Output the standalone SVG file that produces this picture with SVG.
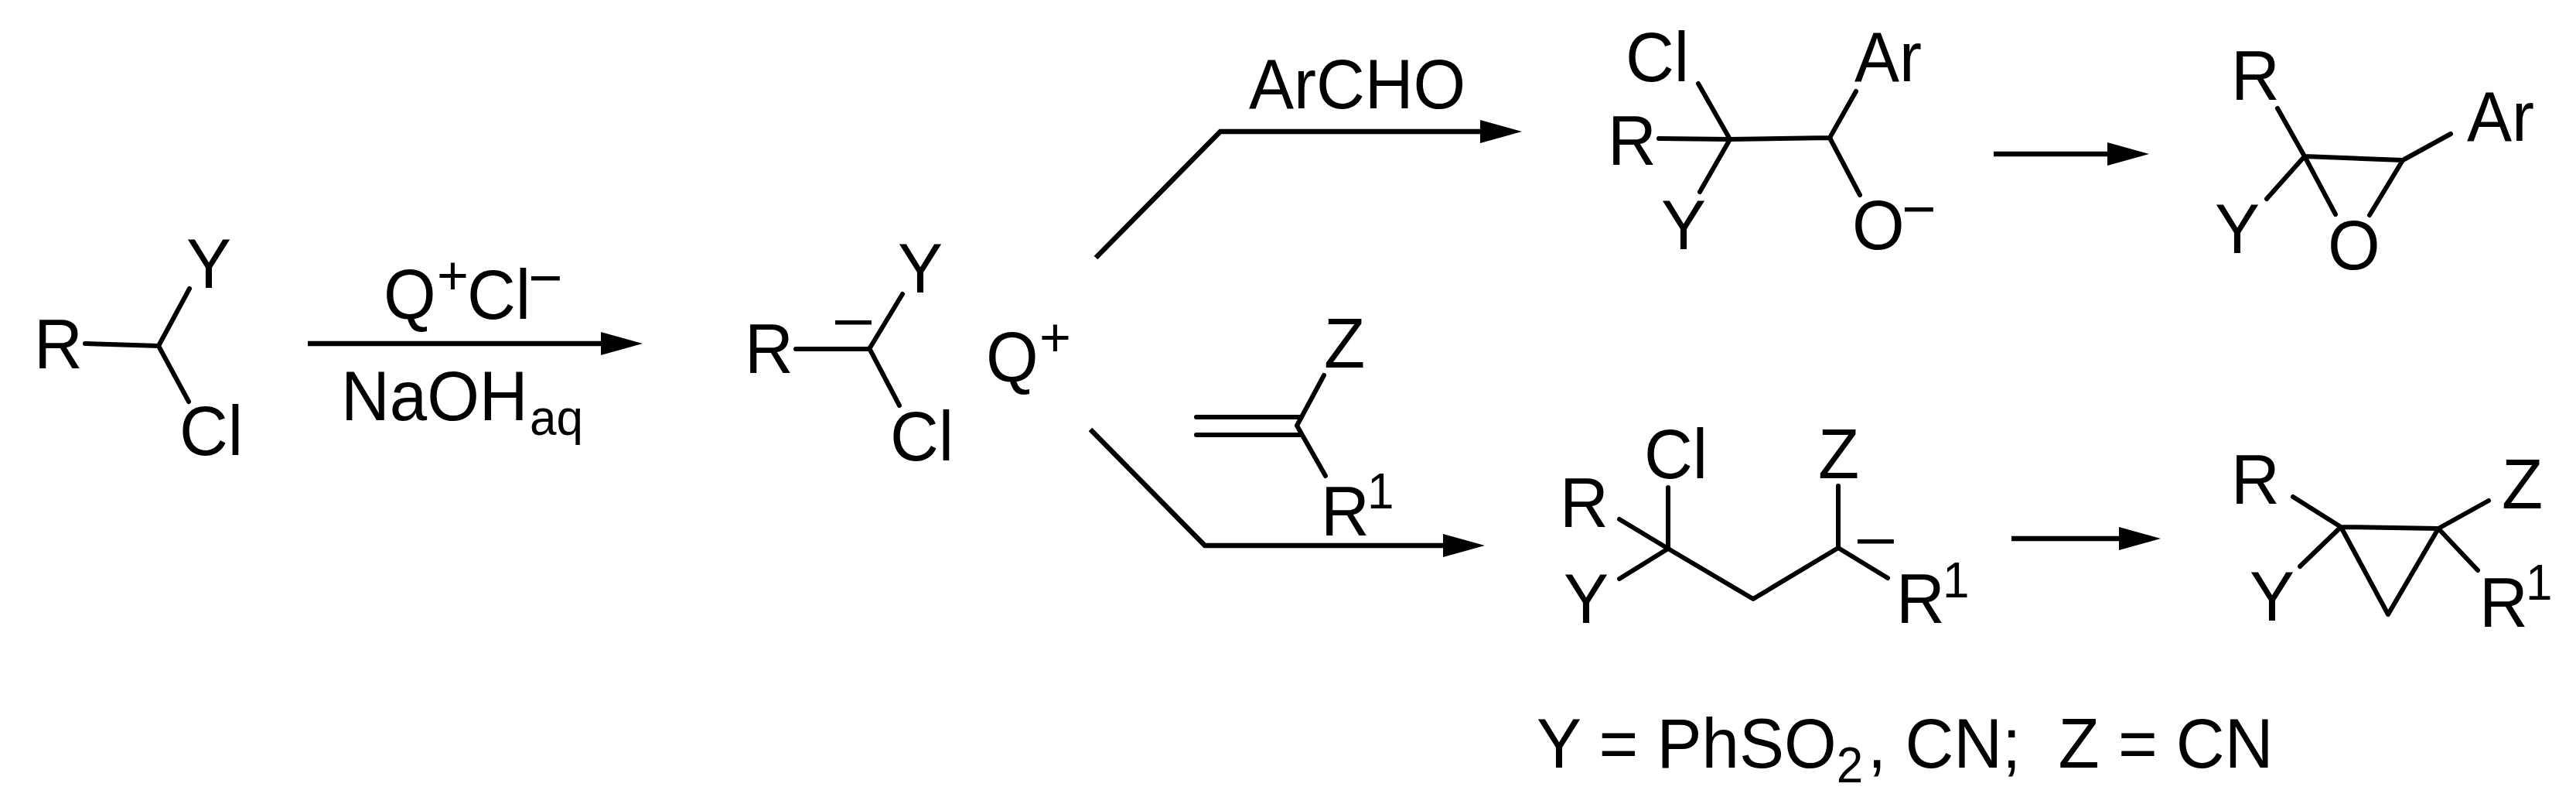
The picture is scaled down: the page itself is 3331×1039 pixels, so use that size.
<svg xmlns="http://www.w3.org/2000/svg" width="3331" height="1039" viewBox="0 0 3331 1039">
<style>
text{font-family:"Liberation Sans",Arial,sans-serif;fill:#000}
.a{font-size:87px}
.s{font-size:62px}
.p{font-size:70px}
.m{font-size:76px}
.bond{fill:none;stroke:#000;stroke-width:6;stroke-linecap:round;stroke-linejoin:round}
.arr{fill:none;stroke:#000;stroke-width:6.5;stroke-linejoin:miter}
</style>
<defs>
<marker id="head" markerUnits="userSpaceOnUse" markerWidth="56" markerHeight="32" refX="26" refY="15" orient="auto" overflow="visible">
<path d="M0 0L54 15L0 30z" fill="#000"/>
</marker>
</defs>
<rect width="3331" height="1039" fill="#fff"/>
<g id="connectors">
<path class="arr" d="M398 444H803" marker-end="url(#head)"/>
<path class="arr" d="M1417 333L1578 170H1940" marker-end="url(#head)"/>
<path class="arr" d="M2578 199H2751" marker-end="url(#head)"/>
<path class="arr" d="M1410 555L1558 705H1892" marker-end="url(#head)"/>
<path class="arr" d="M2601 696H2766" marker-end="url(#head)"/>
</g>
<g id="node-chloride">
<path class="bond" d="M110 444L205 447M205 447L245 373M205 447L244 519"/>
<text class="a" transform="translate(44 476) scale(1 1.05)">R</text>
<text class="a" transform="translate(241 372) scale(1 1.05)">Y</text>
<text class="a" transform="translate(232 588) scale(1 1.05)">Cl</text>
</g>
<g id="node-reagent-top">
<text class="a" transform="translate(496 412) scale(1 1.05)">Q</text>
<text class="p" x="565" y="380">+</text>
<text class="a" transform="translate(604 412) scale(1 1.05)">Cl</text>
<text class="m" x="683" y="385">−</text>
</g>
<g id="node-reagent-bottom">
<text class="a" transform="translate(441 543) scale(1 1.05)">NaOH</text>
<text class="s" transform="translate(685 562) scale(1 1.05)">aq</text>
</g>
<g id="node-carbanion">
<path class="bond" d="M1029 451H1124L1167 380M1124 450L1163 524"/>
<text class="a" transform="translate(963 482) scale(1 1.05)">R</text>
<text class="a" transform="translate(1161 378) scale(1 1.05)">Y</text>
<text class="a" transform="translate(1151 595) scale(1 1.05)">Cl</text>
<text class="m" transform="translate(1075 442) scale(1.27 1)">−</text>
</g>
<g id="node-qplus">
<text class="a" transform="translate(1275 493) scale(1 1.05)">Q</text>
<text class="p" x="1344" y="460">+</text>
</g>
<g id="node-archo"><text class="a" transform="translate(1615 140) scale(1 1.05)">ArCHO</text></g>
<g id="node-alkene">
<path class="bond" d="M1547 539H1682M1547 562H1682M1677 550L1712 485M1677 550L1714 615"/>
<text class="a" transform="translate(1712 475) scale(1 1.05)">Z</text>
<text class="a" transform="translate(1708 692) scale(1 1.05)">R</text>
<text class="s" transform="translate(1768 657) scale(1 1.05)">1</text>
</g>
<g id="node-alkoxide">
<path class="bond" d="M2145 179L2237 180L2366 178M2237 180L2196 108M2237 180L2198 248M2366 178L2400 118M2366 178L2405 252"/>
<text class="a" transform="translate(2102 105) scale(1 1.05)">Cl</text>
<text class="a" transform="translate(2079 213) scale(1 1.05)">R</text>
<text class="a" transform="translate(2148 322) scale(1 1.05)">Y</text>
<text class="a" transform="translate(2398 105) scale(1 1.05)">Ar</text>
<text class="a" transform="translate(2395 322) scale(1 1.05)">O</text>
<text class="m" x="2459" y="296">−</text>
</g>
<g id="node-epoxide">
<path class="bond" d="M2945 140L2980 202L3107 207L3169 173M2980 202L2931 257M2980 202L3020 277M3107 207L3064 278"/>
<text class="a" transform="translate(2885 129) scale(1 1.05)">R</text>
<text class="a" transform="translate(2864 327) scale(1 1.05)">Y</text>
<text class="a" transform="translate(3010 348) scale(1 1.05)">O</text>
<text class="a" transform="translate(3190 182) scale(1 1.05)">Ar</text>
</g>
<g id="node-adduct">
<path class="bond" d="M2157 630V709M2094 671L2157 709L2094 748M2157 709L2267 774L2377 708V628M2377 708L2441 747"/>
<text class="a" transform="translate(2017 681) scale(1 1.05)">R</text>
<text class="a" transform="translate(2126 618) scale(1 1.05)">Cl</text>
<text class="a" transform="translate(2022 805) scale(1 1.05)">Y</text>
<text class="a" transform="translate(2351 618) scale(1 1.05)">Z</text>
<text class="m" transform="translate(2397 725) scale(1.27 1)">−</text>
<text class="a" transform="translate(2452 805) scale(1 1.05)">R</text>
<text class="s" transform="translate(2512 772) scale(1 1.05)">1</text>
</g>
<g id="node-cyclopropane">
<path class="bond" d="M3027 681L3153 683L3088 794ZM3027 681L2965 642M3027 681L2974 732M3153 683L3218 647M3153 683L3204 737"/>
<text class="a" transform="translate(2885 651) scale(1 1.05)">R</text>
<text class="a" transform="translate(2909 802) scale(1 1.05)">Y</text>
<text class="a" transform="translate(3235 657) scale(1 1.05)">Z</text>
<text class="a" transform="translate(3206 810) scale(1 1.05)">R</text>
<text class="s" transform="translate(3266 775) scale(1 1.05)">1</text>
</g>
<g id="node-legend">
<text class="a" transform="translate(1987 992) scale(1 1.05)" xml:space="preserve">Y = PhSO<tspan class="s" dy="18">2</tspan><tspan dx="6" dy="-18">, CN;  Z = CN</tspan></text>
</g>
</svg>
